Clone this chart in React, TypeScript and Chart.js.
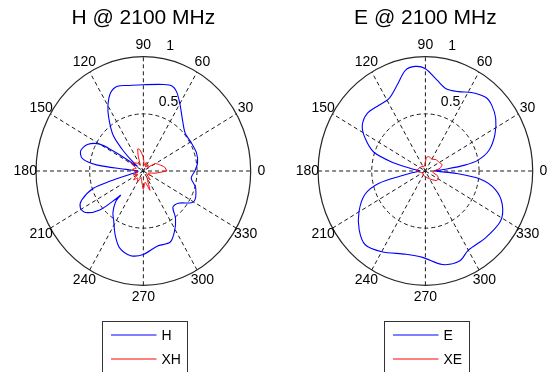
import React, { useEffect, useRef } from "react";
import { Chart, registerables } from "chart.js";

Chart.register(...registerables);

// ---------- data ----------
const ANGLE_TICKS = [0, 30, 60, 90, 120, 150, 180, 210, 240, 270, 300, 330];
const RADIAL_TICKS = [0.5, 1];

const H_TITLE = "H @ 2100 MHz";
const E_TITLE = "E @ 2100 MHz";

// H plane, co-polar (angle in degrees, normalised magnitude)
const H_ANGLES = [0, 8, 18, 30, 40, 50, 60, 66, 70, 76, 90, 100, 108, 114, 120, 125, 132, 136, 140, 144, 147, 148, 150, 156, 163, 169, 173, 175, 180, 188, 193, 196, 198, 204, 209, 214, 220, 224, 225, 226, 232, 238, 245, 252, 261, 270, 281, 292, 299, 306, 311, 319, 330, 343, 352];
const H_VALUES = [0.48, 0.51, 0.52, 0.51, 0.51, 0.57, 0.68, 0.76, 0.79, 0.78, 0.755, 0.76, 0.78, 0.75, 0.66, 0.56, 0.42, 0.28, 0.15, 0.07, 0.2, 0.33, 0.47, 0.57, 0.61, 0.58, 0.44, 0.16, 0.05, 0.06, 0.12, 0.32, 0.49, 0.63, 0.67, 0.65, 0.53, 0.34, 0.3, 0.37, 0.46, 0.52, 0.62, 0.71, 0.75, 0.73, 0.67, 0.67, 0.6, 0.51, 0.42, 0.43, 0.54, 0.51, 0.45];

// H plane, cross-polar
const XH_ANGLES = [0, 10, 20, 30, 40, 50, 60, 70, 80, 90, 100, 105, 110, 120, 130, 140, 150, 160, 170, 180, 190, 200, 210, 220, 230, 240, 250, 260, 270, 280, 290, 300, 310, 320, 330, 340, 350];
const XH_VALUES = [0.22, 0.2, 0.16, 0.13, 0.05, 0.07, 0.04, 0.08, 0.05, 0.12, 0.19, 0.2, 0.14, 0.06, 0.09, 0.11, 0.13, 0.07, 0.1, 0.08, 0.05, 0.1, 0.06, 0.12, 0.08, 0.11, 0.06, 0.09, 0.16, 0.1, 0.18, 0.07, 0.1, 0.04, 0.08, 0.05, 0.11];

// E plane, co-polar
const E_ANGLES = [0, 5, 8, 11, 17, 26, 35, 43, 49, 58, 66, 75, 82, 90, 96, 102, 109, 118, 127, 137, 146, 153, 161, 166, 171, 176, 180, 186, 190, 194, 200, 210, 220, 229, 240, 256, 268, 281, 292, 300, 314, 328, 338, 346, 352, 356];
const E_VALUES = [0.08, 0.2, 0.37, 0.5, 0.62, 0.72, 0.8, 0.845, 0.855, 0.81, 0.76, 0.745, 0.8, 0.895, 0.92, 0.9, 0.8, 0.72, 0.72, 0.74, 0.71, 0.63, 0.51, 0.32, 0.13, 0.06, 0.05, 0.1, 0.2, 0.45, 0.6, 0.715, 0.805, 0.855, 0.815, 0.75, 0.756, 0.834, 0.85, 0.8, 0.81, 0.826, 0.772, 0.672, 0.52, 0.27];

// E plane, cross-polar
const XE_ANGLES = [0, 10, 20, 30, 45, 60, 75, 85, 95, 110, 130, 150, 165, 180, 195, 210, 240, 270, 300, 320, 330, 340, 350];
const XE_VALUES = [0.08, 0.14, 0.165, 0.15, 0.14, 0.12, 0.13, 0.12, 0.06, 0.04, 0.05, 0.06, 0.07, 0.08, 0.05, 0.03, 0.04, 0.05, 0.08, 0.13, 0.14, 0.12, 0.07];

// ---------- helpers ----------
const FONT = '"Liberation Sans", Arial, Helvetica, sans-serif';

function toXY(angles: number[], values: number[]) {
  const pts = angles.map((a, i) => {
    const t = (a * Math.PI) / 180;
    return { x: values[i] * Math.cos(t), y: values[i] * Math.sin(t) };
  });
  pts.push({ ...pts[0] });
  return pts;
}

const polarPlugin = {
  id: "polarGrid",
  beforeDatasetsDraw(chart: any) {
    const ctx = chart.ctx;
    const xs = chart.scales.x;
    const ys = chart.scales.y;
    const cx = xs.getPixelForValue(0);
    const cy = ys.getPixelForValue(0);
    const rx = xs.getPixelForValue(1) - cx;
    const ry = cy - ys.getPixelForValue(1);
    ctx.save();
    ctx.fillStyle = "#ffffff";
    ctx.beginPath();
    ctx.ellipse(cx, cy, rx, ry, 0, 0, Math.PI * 2);
    ctx.fill();
    // dashed spokes
    ctx.strokeStyle = "#1a1a1a";
    ctx.lineWidth = 1;
    ctx.setLineDash([4, 3]);
    for (const a of ANGLE_TICKS) {
      if (a >= 180) continue;
      const t = (a * Math.PI) / 180;
      ctx.beginPath();
      ctx.moveTo(cx - rx * Math.cos(t), cy + ry * Math.sin(t));
      ctx.lineTo(cx + rx * Math.cos(t), cy - ry * Math.sin(t));
      ctx.stroke();
    }
    // dashed inner circles
    for (const r of RADIAL_TICKS) {
      if (r >= 1) continue;
      ctx.beginPath();
      ctx.ellipse(cx, cy, rx * r, ry * r, 0, 0, Math.PI * 2);
      ctx.stroke();
    }
    ctx.setLineDash([]);
    // outer circle
    ctx.strokeStyle = "#262626";
    ctx.lineWidth = 1.2;
    ctx.beginPath();
    ctx.ellipse(cx, cy, rx, ry, 0, 0, Math.PI * 2);
    ctx.stroke();
    // angle labels
    ctx.fillStyle = "#000";
    ctx.font = `14px ${FONT}`;
    ctx.textAlign = "center";
    ctx.textBaseline = "middle";
    for (const a of ANGLE_TICKS) {
      const t = (a * Math.PI) / 180;
      ctx.fillText(String(a), cx + 1.1 * rx * Math.cos(t), cy - 1.1 * ry * Math.sin(t));
    }
    // radial labels
    const c82 = Math.cos((82 * Math.PI) / 180);
    const s82 = Math.sin((82 * Math.PI) / 180);
    ctx.textAlign = "left";
    for (const r of RADIAL_TICKS) {
      const px = cx + r * c82 * rx + 8;
      const py = cy - r * s82 * ry - 12;
      ctx.fillText(String(r), px, py);
    }
    // title
    const title = chart.options.plugins.polarGrid?.title ?? "";
    ctx.font = `21px ${FONT}`;
    ctx.textAlign = "center";
    ctx.textBaseline = "middle";
    ctx.fillText(title, cx, 18);
    ctx.restore();
  },
  afterDraw(chart: any) {
    const ctx = chart.ctx;
    const xs = chart.scales.x;
    const cx = xs.getPixelForValue(0);
    const left = Math.round(cx - 41) + 0.5;
    const top = 321.5;
    const width = 85;
    ctx.save();
    ctx.fillStyle = "#ffffff";
    ctx.fillRect(left, top, width, 60);
    ctx.strokeStyle = "#333";
    ctx.lineWidth = 1;
    ctx.strokeRect(left, top, width, 60);
    const rows = [335, 359];
    chart.data.datasets.forEach((ds: any, i: number) => {
      const y = rows[i];
      ctx.strokeStyle = ds.borderColor;
      ctx.lineWidth = 1;
      ctx.beginPath();
      ctx.moveTo(left + 8.5, y);
      ctx.lineTo(left + 54, y);
      ctx.stroke();
      ctx.fillStyle = "#000";
      ctx.font = `14px ${FONT}`;
      ctx.textAlign = "left";
      ctx.textBaseline = "middle";
      ctx.fillText(ds.label, left + 59, y + 1);
    });
    ctx.restore();
  },
};

function PolarChart(props: {
  title: string;
  co: { label: string; angles: number[]; values: number[] };
  cross: { label: string; angles: number[]; values: number[] };
  padLeft: number;
  padRight: number;
}) {
  const ref = useRef<HTMLCanvasElement | null>(null);
  useEffect(() => {
    if (!ref.current) return;
    const chart = new Chart(ref.current, {
      type: "scatter",
      data: {
        datasets: [
          {
            label: props.co.label,
            data: toXY(props.co.angles, props.co.values),
            showLine: true,
            borderColor: "#0000ff",
            backgroundColor: "#0000ff",
            borderWidth: 1.1,
            pointRadius: 0,
            tension: 0.3,
            fill: false,
            order: 1,
          },
          {
            label: props.cross.label,
            data: toXY(props.cross.angles, props.cross.values),
            showLine: true,
            borderColor: "#ff0000",
            backgroundColor: "#ff0000",
            borderWidth: 1,
            pointRadius: 0,
            tension: 0.15,
            fill: false,
            order: 0,
          },
        ],
      },
      options: {
        animation: false,
        responsive: false,
        maintainAspectRatio: false,
        events: [],
        layout: {
          padding: { left: props.padLeft, right: props.padRight, top: 56.7, bottom: 86.7 },
        },
        scales: {
          x: { type: "linear", min: -1, max: 1, display: false },
          y: { type: "linear", min: -1, max: 1, display: false },
        },
        plugins: {
          legend: { display: false },
          tooltip: { enabled: false },
          polarGrid: { title: props.title },
        } as any,
      },
      plugins: [polarPlugin],
    });
    return () => chart.destroy();
  }, []);
  return <canvas ref={ref} width={276} height={372} style={{ display: "block", width: 276, height: 372 }} />;
}

export default function App() {
  return (
    <div
      style={{
        position: "fixed",
        left: 0,
        top: 0,
        width: 552,
        height: 372,
        display: "flex",
        background: "#ffffff",
      }}
    >
      <PolarChart
        title={H_TITLE}
        co={{ label: "H", angles: H_ANGLES, values: H_VALUES }}
        cross={{ label: "XH", angles: XH_ANGLES, values: XH_VALUES }}
        padLeft={36}
        padRight={25.3}
      />
      <PolarChart
        title={E_TITLE}
        co={{ label: "E", angles: E_ANGLES, values: E_VALUES }}
        cross={{ label: "XE", angles: XE_ANGLES, values: XE_VALUES }}
        padLeft={42.1}
        padRight={19.3}
      />
    </div>
  );
}
